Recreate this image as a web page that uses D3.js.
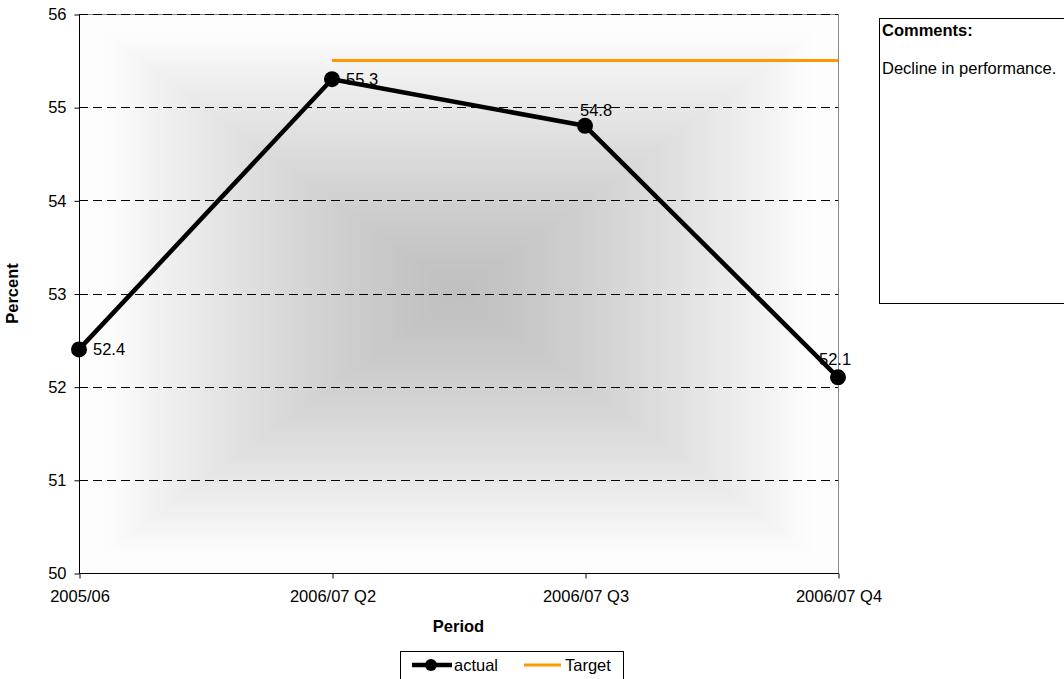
<!DOCTYPE html>
<html>
<head>
<meta charset="utf-8">
<script src="https://cdn.jsdelivr.net/npm/d3@7"></script>
<style>
  html, body { margin: 0; padding: 0; background: #fff; }
  svg { display: block; font-family: "Liberation Sans", Arial, sans-serif; }
</style>
</head>
<body>
<svg id="chart" width="1064" height="679"></svg>
<script>
// Chart data
const categories = ["2005/06", "2006/07 Q2", "2006/07 Q3", "2006/07 Q4"];
const actualValues = [52.4, 55.3, 54.8, 52.1];
const targetValues = [null, 55.5, 55.5, 55.5];
const yTicks = [50, 51, 52, 53, 54, 55, 56];
const seriesNames = ["actual", "Target"];
const commentTitle = "Comments:";
const commentText = "Decline in performance.";

const svg = d3.select("#chart");

const plot = { left: 79, right: 838, top: 14, bottom: 573 };

const x = d3.scalePoint().domain(categories).range([plot.left, plot.right]);
const y = d3.scaleLinear().domain([50, 56]).range([plot.bottom, plot.top]);

// Plot-area fill: rectangular gradient, grey in the middle fading to white at the edges
const defs = svg.append("defs");
defs.append("clipPath").attr("id", "plotClip")
  .append("rect")
  .attr("x", plot.left).attr("y", plot.top)
  .attr("width", plot.right - plot.left).attr("height", plot.bottom - plot.top);

const bg = svg.append("g").attr("clip-path", "url(#plotClip)");
const cx = (plot.left + plot.right) / 2, cy = (plot.top + plot.bottom) / 2;
const hw = (plot.right - plot.left) / 2, hh = (plot.bottom - plot.top) / 2;
const steps = 90;
const shade = t => {
  const s = Math.min(1, t / 0.94);
  return 192 + 61 * Math.pow(s, 1.3);
};
for (let i = 0; i < steps; i++) {
  const t = 1 - i / steps;
  const g = Math.round(shade(t));
  bg.append("rect")
    .attr("x", cx - t * hw).attr("y", cy - t * hh)
    .attr("width", 2 * t * hw).attr("height", 2 * t * hh)
    .attr("fill", `rgb(${g},${g},${g})`);
}

// Plot-area border (top and right in grey)
svg.append("rect")
  .attr("x", plot.left + 0.5).attr("y", plot.top + 0.5)
  .attr("width", plot.right - plot.left).attr("height", plot.bottom - plot.top)
  .attr("fill", "none").attr("stroke", "#888").attr("stroke-width", 1);

// Dashed horizontal gridlines
svg.append("g").selectAll("line")
  .data(yTicks.filter(v => v > 50))
  .join("line")
  .attr("x1", plot.left).attr("x2", plot.right)
  .attr("y1", d => Math.round(y(d)) + 0.5).attr("y2", d => Math.round(y(d)) + 0.5)
  .attr("stroke", "#000").attr("stroke-width", 1)
  .attr("stroke-dasharray", "9,5");

// Y axis
const yAxis = svg.append("g")
  .attr("transform", `translate(${plot.left + 0.5},0.5)`)
  .call(d3.axisLeft(y).tickValues(yTicks).tickFormat(d3.format("d")).tickSize(5).tickPadding(8));
yAxis.select(".domain").attr("stroke", "#000").attr("d", `M0,${plot.top}V${plot.bottom}`);
yAxis.selectAll(".tick line").attr("stroke", "#000");
yAxis.selectAll(".tick text")
  .attr("font-size", "16.5px").attr("fill", "#000")
  .attr("font-family", "Liberation Sans, Arial, sans-serif");

// X axis
const xAxis = svg.append("g")
  .attr("transform", `translate(0.5,${plot.bottom + 0.5})`)
  .call(d3.axisBottom(x).tickSize(5).tickPadding(12));
xAxis.select(".domain").attr("stroke", "#000").attr("d", `M${plot.left},0H${plot.right}`);
xAxis.selectAll(".tick line").attr("stroke", "#000");
xAxis.selectAll(".tick text")
  .attr("font-size", "16.5px").attr("fill", "#000")
  .attr("font-family", "Liberation Sans, Arial, sans-serif");

// Target line
const targetPts = categories.map((c, i) => ({ c, v: targetValues[i] })).filter(d => d.v != null);
svg.append("path")
  .datum(targetPts)
  .attr("fill", "none").attr("stroke", "#FF9900").attr("stroke-width", 3)
  .attr("d", d3.line().x(d => x(d.c)).y(d => y(d.v)));

// Actual line with markers
const actualPts = categories.map((c, i) => ({ c, v: actualValues[i], i }));
svg.append("path")
  .datum(actualPts)
  .attr("fill", "none").attr("stroke", "#000").attr("stroke-width", 4.5)
  .attr("stroke-linejoin", "round")
  .attr("d", d3.line().x(d => x(d.c)).y(d => y(d.v)));
svg.append("g").selectAll("circle")
  .data(actualPts)
  .join("circle")
  .attr("cx", d => x(d.c)).attr("cy", d => y(d.v)).attr("r", 8)
  .attr("fill", "#000");

// Value labels: first two to the right of the point, last two above it
const labelOffsets = [
  { dx: 14, dy: 6, anchor: "start" },
  { dx: 14, dy: 6, anchor: "start" },
  { dx: -5, dy: -10, anchor: "start" },
  { dx: -19, dy: -12, anchor: "start" }
];
svg.append("g").selectAll("text")
  .data(actualPts)
  .join("text")
  .attr("x", d => x(d.c) + labelOffsets[d.i].dx)
  .attr("y", d => y(d.v) + labelOffsets[d.i].dy)
  .attr("text-anchor", d => labelOffsets[d.i].anchor)
  .attr("font-size", "16.5px").attr("fill", "#000")
  .text(d => d.v.toFixed(1));

// Axis titles
svg.append("text")
  .attr("x", (plot.left + plot.right) / 2).attr("y", 632)
  .attr("text-anchor", "middle").attr("font-weight", "bold").attr("font-size", "16.5px")
  .text("Period");
svg.append("text")
  .attr("transform", `translate(17.5,${(plot.top + plot.bottom) / 2}) rotate(-90)`)
  .attr("text-anchor", "middle").attr("font-weight", "bold").attr("font-size", "16.5px")
  .text("Percent");

// Legend
const legend = svg.append("g");
legend.append("rect")
  .attr("x", 400.5).attr("y", 651.5).attr("width", 223).attr("height", 40)
  .attr("fill", "#fff").attr("stroke", "#000").attr("stroke-width", 1);
legend.append("line")
  .attr("x1", 412).attr("x2", 452).attr("y1", 665).attr("y2", 665)
  .attr("stroke", "#000").attr("stroke-width", 4.5);
legend.append("circle").attr("cx", 431).attr("cy", 665).attr("r", 6).attr("fill", "#000");
legend.append("text").attr("x", 454).attr("y", 671).attr("font-size", "16.5px").text(seriesNames[0]);
legend.append("line")
  .attr("x1", 524).attr("x2", 561).attr("y1", 665).attr("y2", 665)
  .attr("stroke", "#FF9900").attr("stroke-width", 3);
legend.append("text").attr("x", 565).attr("y", 671).attr("font-size", "16.5px").text(seriesNames[1]);

// Comments panel
const note = svg.append("g");
note.append("rect")
  .attr("x", 879.5).attr("y", 18.5).attr("width", 200).attr("height", 285)
  .attr("fill", "#fff").attr("stroke", "#000").attr("stroke-width", 1);
note.append("text").attr("x", 882).attr("y", 36)
  .attr("font-weight", "bold").attr("font-size", "16.5px").text(commentTitle);
note.append("text").attr("x", 882).attr("y", 74)
  .attr("font-size", "16.5px").text(commentText);
</script>
</body>
</html>
